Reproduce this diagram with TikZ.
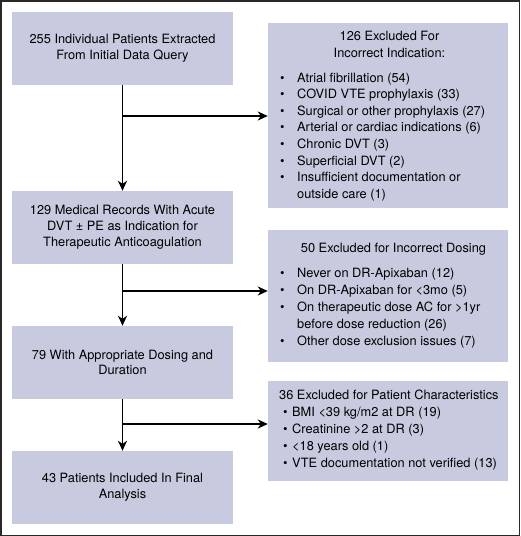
\documentclass[tikz,border=0pt]{standalone}
\usepackage{fontspec}
\setmainfont{TeX Gyre Heros}
\usetikzlibrary{arrows.meta}
\definecolor{boxfill}{RGB}{200,203,224}
\definecolor{framec}{RGB}{40,40,40}
\newcommand\bulA{\makebox[17.2pt][l]{•}}
\newcommand\bulB{\makebox[13pt][l]{\hspace{3.8pt}•}}
\tikzset{
  lbox/.style={fill=boxfill, draw=none, inner sep=0pt, minimum width=221pt, minimum height=73pt,
    align=center, font=\fontsize{12.8}{15.8}\selectfont},
  rbox/.style={fill=boxfill, draw=none, inner sep=0pt, minimum width=240pt},
  txt/.style={inner sep=0pt, font=\fontsize{12.8}{16.6}\selectfont},
  txtb/.style={inner sep=0pt, font=\fontsize{12.8}{17.1}\selectfont},
  txtc/.style={inner sep=0pt, font=\fontsize{12.8}{16.9}\selectfont},
  arr/.style={line width=1.6pt, -{Stealth[length=10pt,width=9pt,inset=3pt]}},
}
\begin{document}
\begin{tikzpicture}[x=1pt,y=-1pt]
\useasboundingbox (0,0) rectangle (520,536);
\draw[framec, line width=1.5pt] (0.75,0.75) rectangle (519.25,535.25);
% left boxes
\node[lbox] (b1) at (122.5,48.5) {255 Individual Patients Extracted\\From Initial Data Query};
\node[lbox] (b2) at (122.5,227.5) {129 Medical Records With Acute\\DVT ± PE as Indication for\\Therapeutic Anticoagulation};
\node[lbox] (b3) at (122.5,362.5) {79 With Appropriate Dosing and\\Duration};
\node[lbox] (b4) at (122.5,487.5) {43 Patients Included In Final\\Analysis};
% right boxes
\node[rbox, minimum height=185pt] (r1) at (388,115.5) {};
\node[rbox, minimum height=132pt] (r2) at (388,296) {};
\node[rbox, minimum height=100pt] (r3) at (388,431) {};
% right box texts
\node[txt, anchor=base] (r1t) at (389.5,40.5) {\begin{tabular}[t]{@{}c@{}}126 Excluded For\\Incorrect Indication:\end{tabular}};
\node[txt, anchor=base west] (r1l) at (279.8,82) {\begin{tabular}[t]{@{}l@{}l@{}}
\bulA & Atrial fibrillation (54)\\
\bulA & COVID VTE prophylaxis (33)\\
\bulA & Surgical or other prophylaxis (27)\\
\bulA & Arterial or cardiac indications (6)\\
\bulA & Chronic DVT (3)\\
\bulA & Superficial DVT (2)\\
\bulA & Insufficient documentation or\\
      & outside care (1)
\end{tabular}};
\node[txtb, anchor=base] (r2t) at (393.5,252.5) {50 Excluded for Incorrect Dosing};
\node[txtb, anchor=base west] (r2l) at (279.8,277.5) {\begin{tabular}[t]{@{}l@{}l@{}}
\bulA & Never on DR-Apixaban (12)\\
\bulA & On DR-Apixaban for <3mo (5)\\
\bulA & On therapeutic dose AC for >1yr\\
      & before dose reduction (26)\\
\bulA & Other dose exclusion issues (7)
\end{tabular}};
\node[txtc, anchor=base west] (r3l) at (279,399.5) {\begin{tabular}[t]{@{}l@{}l@{}}
\multicolumn{2}{@{}l@{}}{36 Excluded for Patient Characteristics}\\
\bulB & BMI <39 kg/m2 at DR (19)\\
\bulB & Creatinine >2 at DR (3)\\
\bulB & <18 years old (1)\\
\bulB & VTE documentation not verified (13)
\end{tabular}};
% connectors
\coordinate (j1) at (123,116);
\coordinate (j2) at (123,291);
\coordinate (j3) at (123,424);
\draw[arr] (b1) -- (b2);
\draw[arr] (b2) -- (b3);
\draw[arr] (b3) -- (b4);
\draw[arr] (j1) -- (j1 -| r1.west);
\draw[arr] (j2) -- (j2 -| r2.west);
\draw[arr] (j3) -- (j3 -| r3.west);
\end{tikzpicture}
\end{document}
